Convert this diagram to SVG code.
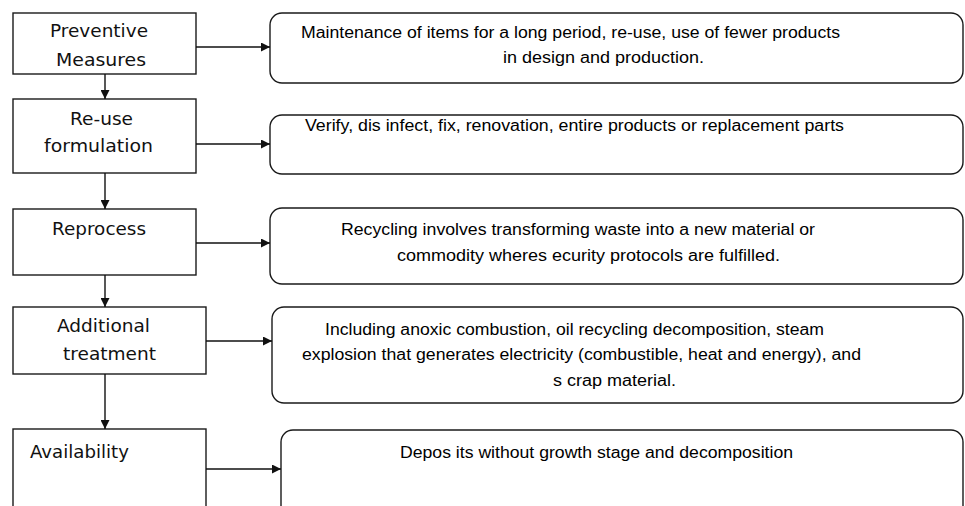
<svg xmlns="http://www.w3.org/2000/svg" width="965" height="506" viewBox="0 0 965 506">
  <style>
    .step { fill: #fff; stroke: #1a1a1a; stroke-width: 1.4; }
    .note { fill: #fff; stroke: #1a1a1a; stroke-width: 1.4; }
    .lbl { font-family: "DejaVu Sans", Verdana, sans-serif; font-size: 17px; fill: #111; }
    .txt { font-family: "Liberation Sans", Arial, sans-serif; font-size: 16px; fill: #000; }
    .conn { stroke: #111; stroke-width: 1.4; fill: none; marker-end: url(#head); }
  </style>
  <defs>
    <marker id="head" viewBox="0 0 10 10" refX="10" refY="5" markerWidth="11" markerHeight="9" markerUnits="userSpaceOnUse" orient="auto">
      <path d="M0,0 L10,5 L0,10 Z" fill="#111"/>
    </marker>
  </defs>
  <rect width="965" height="506" fill="#fff"/>

  <!-- process steps -->
  <g id="step-preventive">
    <rect class="step" x="13" y="13" width="183" height="61"/>
    <text class="lbl" x="50" y="37" textLength="98" lengthAdjust="spacingAndGlyphs">Preventive</text>
    <text class="lbl" x="56" y="66" textLength="90" lengthAdjust="spacingAndGlyphs">Measures</text>
  </g>
  <g id="step-reuse">
    <rect class="step" x="13" y="99" width="183" height="74"/>
    <text class="lbl" x="70" y="125" textLength="63" lengthAdjust="spacingAndGlyphs">Re-use</text>
    <text class="lbl" x="44" y="152" textLength="109" lengthAdjust="spacingAndGlyphs">formulation</text>
  </g>
  <g id="step-reprocess">
    <rect class="step" x="13" y="209" width="183" height="66"/>
    <text class="lbl" x="52" y="235" textLength="94" lengthAdjust="spacingAndGlyphs">Reprocess</text>
  </g>
  <g id="step-additional">
    <rect class="step" x="13" y="307" width="193" height="67"/>
    <text class="lbl" x="57" y="332" textLength="93" lengthAdjust="spacingAndGlyphs">Additional</text>
    <text class="lbl" x="63" y="360" textLength="93" lengthAdjust="spacingAndGlyphs">treatment</text>
  </g>
  <g id="step-availability">
    <rect class="step" x="13" y="429" width="193" height="90"/>
    <text class="lbl" x="30" y="458" textLength="99" lengthAdjust="spacingAndGlyphs">Availability</text>
  </g>

  <!-- descriptions -->
  <g id="note-preventive">
    <rect class="note" x="270" y="13" width="693" height="70" rx="12"/>
    <text class="txt" x="301" y="38" textLength="539" lengthAdjust="spacingAndGlyphs">Maintenance of items for a long period, re-use, use of fewer products</text>
    <text class="txt" x="503" y="63" textLength="201" lengthAdjust="spacingAndGlyphs">in design and production.</text>
  </g>
  <g id="note-reuse">
    <rect class="note" x="270" y="115" width="693" height="59" rx="12"/>
    <text class="txt" x="305" y="131" textLength="539" lengthAdjust="spacingAndGlyphs">Verify, dis infect, fix, renovation, entire products or replacement parts</text>
  </g>
  <g id="note-reprocess">
    <rect class="note" x="270" y="208" width="693" height="76" rx="12"/>
    <text class="txt" x="341" y="235" textLength="474" lengthAdjust="spacingAndGlyphs">Recycling involves transforming waste into a new material or</text>
    <text class="txt" x="397" y="261" textLength="383" lengthAdjust="spacingAndGlyphs">commodity wheres ecurity protocols are fulfilled.</text>
  </g>
  <g id="note-additional">
    <rect class="note" x="272" y="307" width="691" height="96" rx="12"/>
    <text class="txt" x="325" y="335" textLength="499" lengthAdjust="spacingAndGlyphs">Including anoxic combustion, oil recycling decomposition, steam</text>
    <text class="txt" x="302" y="360" textLength="559" lengthAdjust="spacingAndGlyphs">explosion that generates electricity (combustible, heat and energy), and</text>
    <text class="txt" x="553" y="386" textLength="123" lengthAdjust="spacingAndGlyphs">s crap material.</text>
  </g>
  <g id="note-availability">
    <rect class="note" x="281" y="430" width="682" height="90" rx="12"/>
    <text class="txt" x="400" y="458" textLength="393" lengthAdjust="spacingAndGlyphs">Depos its without growth stage and decomposition</text>
  </g>

  <!-- connectors -->
  <g id="connectors">
    <line class="conn" x1="196" y1="47" x2="270" y2="47"/>
    <line class="conn" x1="196" y1="144" x2="270" y2="144"/>
    <line class="conn" x1="196" y1="243" x2="270" y2="243"/>
    <line class="conn" x1="206" y1="341" x2="272" y2="341"/>
    <line class="conn" x1="206" y1="469" x2="281" y2="469"/>
    <line class="conn" x1="105" y1="74" x2="105" y2="99"/>
    <line class="conn" x1="105" y1="173" x2="105" y2="209"/>
    <line class="conn" x1="105" y1="275" x2="105" y2="307"/>
    <line class="conn" x1="105" y1="374" x2="105" y2="429"/>
  </g>
</svg>
